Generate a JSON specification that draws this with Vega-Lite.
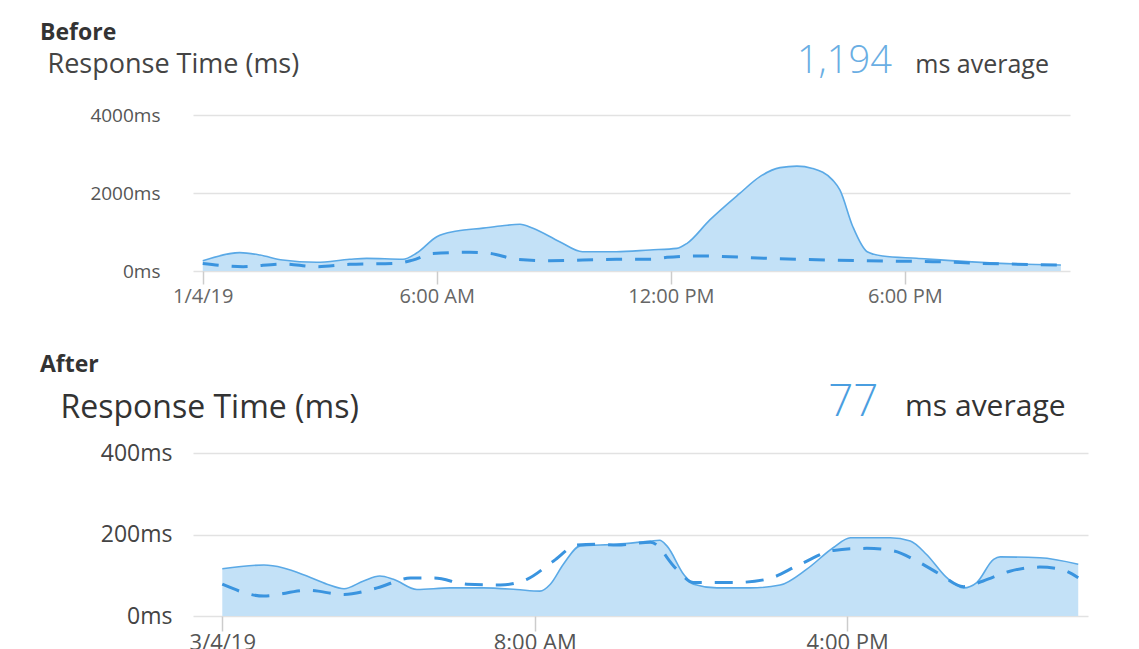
{
  "$schema": "https://vega.github.io/schema/vega-lite/v6.json",
  "padding": {"left": 40, "top": 21, "right": 5, "bottom": 0},
  "spacing": 47,
  "config": {"view": {"stroke": null}, "font": "Open Sans"},
  "datasets": {
    "before": [
      {"time": "2019-01-04T00:00:00Z", "ms": 260, "series": "actual"},
      {"time": "2019-01-04T00:57:00Z", "ms": 470, "series": "actual"},
      {"time": "2019-01-04T01:28:00Z", "ms": 410, "series": "actual"},
      {"time": "2019-01-04T02:03:00Z", "ms": 280, "series": "actual"},
      {"time": "2019-01-04T02:55:00Z", "ms": 223, "series": "actual"},
      {"time": "2019-01-04T03:46:00Z", "ms": 300, "series": "actual"},
      {"time": "2019-01-04T04:12:00Z", "ms": 325, "series": "actual"},
      {"time": "2019-01-04T05:08:00Z", "ms": 300, "series": "actual"},
      {"time": "2019-01-04T05:29:00Z", "ms": 460, "series": "actual"},
      {"time": "2019-01-04T06:00:00Z", "ms": 880, "series": "actual"},
      {"time": "2019-01-04T06:31:00Z", "ms": 1025, "series": "actual"},
      {"time": "2019-01-04T07:11:00Z", "ms": 1100, "series": "actual"},
      {"time": "2019-01-04T07:41:00Z", "ms": 1160, "series": "actual"},
      {"time": "2019-01-04T08:08:00Z", "ms": 1200, "series": "actual"},
      {"time": "2019-01-04T08:28:00Z", "ms": 1095, "series": "actual"},
      {"time": "2019-01-04T09:09:00Z", "ms": 750, "series": "actual"},
      {"time": "2019-01-04T09:44:00Z", "ms": 495, "series": "actual"},
      {"time": "2019-01-04T10:36:00Z", "ms": 495, "series": "actual"},
      {"time": "2019-01-04T11:28:00Z", "ms": 540, "series": "actual"},
      {"time": "2019-01-04T12:09:00Z", "ms": 580, "series": "actual"},
      {"time": "2019-01-04T12:25:00Z", "ms": 710, "series": "actual"},
      {"time": "2019-01-04T13:00:00Z", "ms": 1310, "series": "actual"},
      {"time": "2019-01-04T13:46:00Z", "ms": 1990, "series": "actual"},
      {"time": "2019-01-04T14:17:00Z", "ms": 2420, "series": "actual"},
      {"time": "2019-01-04T14:48:00Z", "ms": 2650, "series": "actual"},
      {"time": "2019-01-04T15:14:00Z", "ms": 2690, "series": "actual"},
      {"time": "2019-01-04T15:38:00Z", "ms": 2630, "series": "actual"},
      {"time": "2019-01-04T16:09:00Z", "ms": 2330, "series": "actual"},
      {"time": "2019-01-04T16:20:00Z", "ms": 2080, "series": "actual"},
      {"time": "2019-01-04T16:40:00Z", "ms": 1135, "series": "actual"},
      {"time": "2019-01-04T17:02:00Z", "ms": 495, "series": "actual"},
      {"time": "2019-01-04T17:26:00Z", "ms": 385, "series": "actual"},
      {"time": "2019-01-04T18:18:00Z", "ms": 325, "series": "actual"},
      {"time": "2019-01-04T19:36:00Z", "ms": 240, "series": "actual"},
      {"time": "2019-01-04T20:54:00Z", "ms": 180, "series": "actual"},
      {"time": "2019-01-04T22:00:00Z", "ms": 155, "series": "actual"},
      {"time": "2019-01-04T00:00:00Z", "ms": 195, "series": "baseline"},
      {"time": "2019-01-04T01:02:00Z", "ms": 110, "series": "baseline"},
      {"time": "2019-01-04T02:03:00Z", "ms": 180, "series": "baseline"},
      {"time": "2019-01-04T02:55:00Z", "ms": 110, "series": "baseline"},
      {"time": "2019-01-04T03:46:00Z", "ms": 170, "series": "baseline"},
      {"time": "2019-01-04T04:58:00Z", "ms": 195, "series": "baseline"},
      {"time": "2019-01-04T05:23:00Z", "ms": 280, "series": "baseline"},
      {"time": "2019-01-04T05:54:00Z", "ms": 450, "series": "baseline"},
      {"time": "2019-01-04T06:51:00Z", "ms": 480, "series": "baseline"},
      {"time": "2019-01-04T07:22:00Z", "ms": 450, "series": "baseline"},
      {"time": "2019-01-04T08:03:00Z", "ms": 300, "series": "baseline"},
      {"time": "2019-01-04T08:54:00Z", "ms": 265, "series": "baseline"},
      {"time": "2019-01-04T10:36:00Z", "ms": 300, "series": "baseline"},
      {"time": "2019-01-04T11:28:00Z", "ms": 300, "series": "baseline"},
      {"time": "2019-01-04T11:54:00Z", "ms": 350, "series": "baseline"},
      {"time": "2019-01-04T12:44:00Z", "ms": 385, "series": "baseline"},
      {"time": "2019-01-04T14:28:00Z", "ms": 325, "series": "baseline"},
      {"time": "2019-01-04T16:09:00Z", "ms": 280, "series": "baseline"},
      {"time": "2019-01-04T17:26:00Z", "ms": 255, "series": "baseline"},
      {"time": "2019-01-04T18:43:00Z", "ms": 240, "series": "baseline"},
      {"time": "2019-01-04T20:00:00Z", "ms": 195, "series": "baseline"},
      {"time": "2019-01-04T22:00:00Z", "ms": 155, "series": "baseline"}
    ],
    "after": [
      {"time": "2019-03-04T00:00:00Z", "ms": 116, "series": "actual"},
      {"time": "2019-03-04T01:04:00Z", "ms": 125, "series": "actual"},
      {"time": "2019-03-04T01:34:00Z", "ms": 118, "series": "actual"},
      {"time": "2019-03-04T02:10:00Z", "ms": 98, "series": "actual"},
      {"time": "2019-03-04T02:41:00Z", "ms": 78, "series": "actual"},
      {"time": "2019-03-04T03:07:00Z", "ms": 67, "series": "actual"},
      {"time": "2019-03-04T03:37:00Z", "ms": 86, "series": "actual"},
      {"time": "2019-03-04T04:02:00Z", "ms": 98, "series": "actual"},
      {"time": "2019-03-04T04:23:00Z", "ms": 90, "series": "actual"},
      {"time": "2019-03-04T04:59:00Z", "ms": 65, "series": "actual"},
      {"time": "2019-03-04T05:50:00Z", "ms": 69, "series": "actual"},
      {"time": "2019-03-04T06:41:00Z", "ms": 69, "series": "actual"},
      {"time": "2019-03-04T07:32:00Z", "ms": 65, "series": "actual"},
      {"time": "2019-03-04T08:08:00Z", "ms": 61, "series": "actual"},
      {"time": "2019-03-04T08:24:00Z", "ms": 78, "series": "actual"},
      {"time": "2019-03-04T08:44:00Z", "ms": 127, "series": "actual"},
      {"time": "2019-03-04T09:10:00Z", "ms": 172, "series": "actual"},
      {"time": "2019-03-04T10:06:00Z", "ms": 176, "series": "actual"},
      {"time": "2019-03-04T10:58:00Z", "ms": 184, "series": "actual"},
      {"time": "2019-03-04T11:12:00Z", "ms": 186, "series": "actual"},
      {"time": "2019-03-04T11:23:00Z", "ms": 172, "series": "actual"},
      {"time": "2019-03-04T11:49:00Z", "ms": 102, "series": "actual"},
      {"time": "2019-03-04T12:04:00Z", "ms": 78, "series": "actual"},
      {"time": "2019-03-04T12:40:00Z", "ms": 69, "series": "actual"},
      {"time": "2019-03-04T13:31:00Z", "ms": 69, "series": "actual"},
      {"time": "2019-03-04T14:17:00Z", "ms": 76, "series": "actual"},
      {"time": "2019-03-04T14:58:00Z", "ms": 115, "series": "actual"},
      {"time": "2019-03-04T15:39:00Z", "ms": 168, "series": "actual"},
      {"time": "2019-03-04T16:05:00Z", "ms": 192, "series": "actual"},
      {"time": "2019-03-04T17:06:00Z", "ms": 192, "series": "actual"},
      {"time": "2019-03-04T17:37:00Z", "ms": 184, "series": "actual"},
      {"time": "2019-03-04T18:02:00Z", "ms": 151, "series": "actual"},
      {"time": "2019-03-04T18:33:00Z", "ms": 94, "series": "actual"},
      {"time": "2019-03-04T18:59:00Z", "ms": 69, "series": "actual"},
      {"time": "2019-03-04T19:19:00Z", "ms": 82, "series": "actual"},
      {"time": "2019-03-04T19:45:00Z", "ms": 139, "series": "actual"},
      {"time": "2019-03-04T19:55:00Z", "ms": 145, "series": "actual"},
      {"time": "2019-03-04T20:56:00Z", "ms": 143, "series": "actual"},
      {"time": "2019-03-04T21:55:00Z", "ms": 127, "series": "actual"},
      {"time": "2019-03-04T00:00:00Z", "ms": 78, "series": "baseline"},
      {"time": "2019-03-04T01:04:00Z", "ms": 49, "series": "baseline"},
      {"time": "2019-03-04T02:10:00Z", "ms": 63, "series": "baseline"},
      {"time": "2019-03-04T03:07:00Z", "ms": 53, "series": "baseline"},
      {"time": "2019-03-04T03:58:00Z", "ms": 69, "series": "baseline"},
      {"time": "2019-03-04T04:49:00Z", "ms": 93, "series": "baseline"},
      {"time": "2019-03-04T05:25:00Z", "ms": 93, "series": "baseline"},
      {"time": "2019-03-04T06:16:00Z", "ms": 78, "series": "baseline"},
      {"time": "2019-03-04T07:07:00Z", "ms": 76, "series": "baseline"},
      {"time": "2019-03-04T07:48:00Z", "ms": 90, "series": "baseline"},
      {"time": "2019-03-04T08:29:00Z", "ms": 135, "series": "baseline"},
      {"time": "2019-03-04T09:05:00Z", "ms": 174, "series": "baseline"},
      {"time": "2019-03-04T09:41:00Z", "ms": 176, "series": "baseline"},
      {"time": "2019-03-04T10:06:00Z", "ms": 174, "series": "baseline"},
      {"time": "2019-03-04T10:58:00Z", "ms": 181, "series": "baseline"},
      {"time": "2019-03-04T11:38:00Z", "ms": 115, "series": "baseline"},
      {"time": "2019-03-04T12:04:00Z", "ms": 82, "series": "baseline"},
      {"time": "2019-03-04T13:05:00Z", "ms": 82, "series": "baseline"},
      {"time": "2019-03-04T13:56:00Z", "ms": 90, "series": "baseline"},
      {"time": "2019-03-04T14:48:00Z", "ms": 127, "series": "baseline"},
      {"time": "2019-03-04T15:39:00Z", "ms": 161, "series": "baseline"},
      {"time": "2019-03-04T16:30:00Z", "ms": 166, "series": "baseline"},
      {"time": "2019-03-04T17:11:00Z", "ms": 160, "series": "baseline"},
      {"time": "2019-03-04T17:47:00Z", "ms": 135, "series": "baseline"},
      {"time": "2019-03-04T18:23:00Z", "ms": 102, "series": "baseline"},
      {"time": "2019-03-04T18:59:00Z", "ms": 72, "series": "baseline"},
      {"time": "2019-03-04T19:29:00Z", "ms": 86, "series": "baseline"},
      {"time": "2019-03-04T20:10:00Z", "ms": 110, "series": "baseline"},
      {"time": "2019-03-04T20:56:00Z", "ms": 120, "series": "baseline"},
      {"time": "2019-03-04T21:27:00Z", "ms": 115, "series": "baseline"},
      {"time": "2019-03-04T21:55:00Z", "ms": 94, "series": "baseline"}
    ],
    "beforeAvg": [
      {"time": "2019-01-04T17:40:00Z", "ms": 5080, "label": "1,194", "part": "value"},
      {"time": "2019-01-04T18:16:00Z", "ms": 5080, "label": "ms average", "part": "unit"}
    ],
    "afterAvg": [
      {"time": "2019-03-04T16:48:00Z", "ms": 491, "label": "77", "part": "value"},
      {"time": "2019-03-04T17:29:00Z", "ms": 491, "label": "ms average", "part": "unit"}
    ]
  },
  "vconcat": [
    {
      "width": 877,
      "height": 156,
      "title": {"text": "Before", "anchor": "start", "frame": "group", "dx": -153, "fontSize": 23, "fontWeight": "bold", "color": "#333333", "offset": -2, "font": "Open Sans"},
      "encoding": {
        "x": {
          "field": "time", "type": "temporal",
          "scale": {"type": "utc", "domain": [{"year": 2019, "month": 1, "date": 3, "hours": 23, "minutes": 45, "utc": true}, {"year": 2019, "month": 1, "date": 4, "hours": 22, "minutes": 14, "utc": true}]},
          "axis": {
            "title": null,
            "values": [
              {"year": 2019, "month": 1, "date": 4, "hours": 0, "utc": true},
              {"year": 2019, "month": 1, "date": 4, "hours": 6, "utc": true},
              {"year": 2019, "month": 1, "date": 4, "hours": 12, "utc": true},
              {"year": 2019, "month": 1, "date": 4, "hours": 18, "utc": true}
            ],
            "labelExpr": "utchours(datum.value) == 0 ? utcFormat(datum.value, '%-m/%-d/%y') : utcFormat(datum.value, '%-I:%M %p')",
            "domain": false, "grid": false,
            "tickColor": "#cccccc", "tickSize": 13, "tickWidth": 1.5,
            "labelPadding": 2, "labelFontSize": 20, "labelColor": "#666666", "labelFont": "Open Sans"
          }
        },
        "y": {
          "field": "ms", "type": "quantitative",
          "scale": {"domain": [0, 4000]},
          "axis": {
            "values": [0, 2000, 4000],
            "labelExpr": "datum.value + 'ms'",
            "title": "Response Time (ms)",
            "titleAngle": 0, "titleAlign": "left", "titleBaseline": "alphabetic",
            "titleX": -146, "titleY": -43,
            "titleFontSize": 27, "titleFontWeight": "normal", "titleColor": "#444444", "titleFont": "Open Sans",
            "domain": false, "ticks": false,
            "labelPadding": 33, "labelFontSize": 19, "labelColor": "#555555", "labelFont": "Open Sans",
            "gridColor": "#e2e2e2", "gridWidth": 1.5
          }
        }
      },
      "layer": [
        {
          "data": {"name": "before"},
          "transform": [{"filter": "datum.series === 'actual'"}],
          "mark": {"type": "area", "interpolate": "monotone", "color": "#c3e1f7", "opacity": 1}
        },
        {
          "data": {"name": "before"},
          "transform": [{"filter": "datum.series === 'actual'"}],
          "mark": {"type": "line", "interpolate": "monotone", "color": "#5aa9e6", "strokeWidth": 1.6}
        },
        {
          "data": {"name": "before"},
          "transform": [{"filter": "datum.series === 'baseline'"}],
          "mark": {"type": "line", "interpolate": "monotone", "color": "#3a94df", "strokeWidth": 3, "strokeDash": [16, 13]}
        },
        {
          "data": {"name": "beforeAvg"},
          "transform": [{"filter": "datum.part === 'value'"}],
          "mark": {"type": "text", "align": "right", "baseline": "alphabetic", "fontSize": 38, "fontWeight": 300, "color": "#6aaee3", "font": "Open Sans"},
          "encoding": {"text": {"field": "label"}}
        },
        {
          "data": {"name": "beforeAvg"},
          "transform": [{"filter": "datum.part === 'unit'"}],
          "mark": {"type": "text", "align": "left", "baseline": "alphabetic", "fontSize": 25, "color": "#444444", "font": "Open Sans"},
          "encoding": {"text": {"field": "label"}}
        }
      ]
    },
    {
      "width": 895,
      "height": 163,
      "title": {"text": "After", "anchor": "start", "frame": "group", "dx": -153, "fontSize": 23, "fontWeight": "bold", "color": "#333333", "offset": 4, "font": "Open Sans"},
      "encoding": {
        "x": {
          "field": "time", "type": "temporal",
          "scale": {"type": "utc", "domain": [{"year": 2019, "month": 3, "date": 3, "hours": 23, "minutes": 15, "utc": true}, {"year": 2019, "month": 3, "date": 4, "hours": 22, "minutes": 10, "utc": true}]},
          "axis": {
            "title": null,
            "values": [
              {"year": 2019, "month": 3, "date": 4, "hours": 0, "utc": true},
              {"year": 2019, "month": 3, "date": 4, "hours": 8, "utc": true},
              {"year": 2019, "month": 3, "date": 4, "hours": 16, "utc": true}
            ],
            "labelExpr": "utchours(datum.value) == 0 ? utcFormat(datum.value, '%-m/%-d/%y') : utcFormat(datum.value, '%-I:%M %p')",
            "domain": false, "grid": false,
            "tickColor": "#cccccc", "tickSize": 15, "tickWidth": 1.5,
            "labelPadding": 1, "labelFontSize": 22, "labelColor": "#555555", "labelFont": "Open Sans"
          }
        },
        "y": {
          "field": "ms", "type": "quantitative",
          "scale": {"domain": [0, 400]},
          "axis": {
            "values": [0, 200, 400],
            "labelExpr": "datum.value + 'ms'",
            "title": "Response Time (ms)",
            "titleAngle": 0, "titleAlign": "left", "titleBaseline": "alphabetic",
            "titleX": -133, "titleY": -36,
            "titleFontSize": 32, "titleFontWeight": "normal", "titleColor": "#333333", "titleFont": "Open Sans",
            "domain": false, "ticks": false,
            "labelPadding": 21, "labelFontSize": 23, "labelColor": "#444444", "labelFont": "Open Sans",
            "gridColor": "#e2e2e2", "gridWidth": 1.5
          }
        }
      },
      "layer": [
        {
          "data": {"name": "after"},
          "transform": [{"filter": "datum.series === 'actual'"}],
          "mark": {"type": "area", "interpolate": "monotone", "color": "#c3e1f7", "opacity": 1}
        },
        {
          "data": {"name": "after"},
          "transform": [{"filter": "datum.series === 'actual'"}],
          "mark": {"type": "line", "interpolate": "monotone", "color": "#5aa9e6", "strokeWidth": 1.6}
        },
        {
          "data": {"name": "after"},
          "transform": [{"filter": "datum.series === 'baseline'"}],
          "mark": {"type": "line", "interpolate": "monotone", "color": "#3a94df", "strokeWidth": 3, "strokeDash": [18, 13]}
        },
        {
          "data": {"name": "afterAvg"},
          "transform": [{"filter": "datum.part === 'value'"}],
          "mark": {"type": "text", "align": "right", "baseline": "alphabetic", "fontSize": 44, "fontWeight": 300, "color": "#4a9ee0", "font": "Open Sans"},
          "encoding": {"text": {"field": "label"}}
        },
        {
          "data": {"name": "afterAvg"},
          "transform": [{"filter": "datum.part === 'unit'"}],
          "mark": {"type": "text", "align": "left", "baseline": "alphabetic", "fontSize": 30, "color": "#333333", "font": "Open Sans"},
          "encoding": {"text": {"field": "label"}}
        }
      ]
    }
  ]
}
